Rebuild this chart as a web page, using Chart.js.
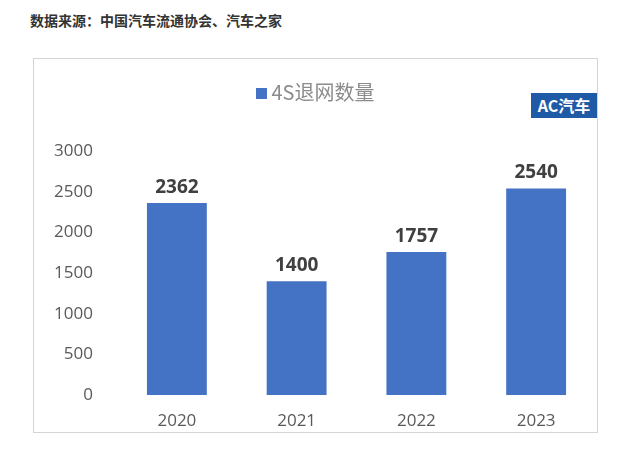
<!DOCTYPE html>
<html>
<head>
<meta charset="utf-8">
<script src="https://cdn.jsdelivr.net/npm/chart.js@4"></script>
<style>
  body { margin: 0; background: #fff; font-family: "Noto Sans CJK SC", "Noto Sans", sans-serif; }
  #title { position: absolute; left: 30px; top: 10px; font-size: 14px; font-weight: bold; color: #333; }
  #box { position: absolute; left: 33px; top: 58px; width: 563px; height: 373px; border: 1px solid #d4d4d4; }
  #legend { position: absolute; left: 0; width: 100%; top: 18px; text-align: center; font-size: 20px; color: #8c8c8c; }
  #legend span.sw { display: inline-block; width: 11px; height: 11px; background: #4472C4; margin-right: 4px; vertical-align: 1px; }
  #logo { position: absolute; left: 497px; top: 34px; width: 66px; height: 25px; background: #1f5aa6; color: #fff;
          font-size: 16px; font-weight: bold; line-height: 25px; text-align: center; }
  canvas { position: absolute; left: 0; top: 0; }
</style>
</head>
<body>
<div id="title">数据来源：中国汽车流通协会、汽车之家</div>
<div id="box">
  <canvas id="myChart" width="563" height="373"></canvas>
  <div id="legend"><span class="sw"></span>4S退网数量</div>
  <div id="logo">AC汽车</div>
</div>
<script>
(() => {
  "use strict";

  const years = ["2020", "2021", "2022", "2023"];
  const exits = [2362, 1400, 1757, 2540];
  const yTicks = [0, 500, 1000, 1500, 2000, 2500, 3000];

  const valueLabels = {
    id: "valueLabels",
    afterDatasetsDraw(chart) {
      const ctx = chart.ctx;
      const meta = chart.getDatasetMeta(0);
      ctx.save();
      ctx.font = "bold 19px 'Open Sans', sans-serif";
      ctx.fillStyle = "#404040";
      ctx.textAlign = "center";
      ctx.textBaseline = "bottom";
      meta.data.forEach((bar, i) => {
        ctx.fillText(String(exits[i]), bar.x, bar.y - 6);
      });
      ctx.restore();
    },
  };

  const chartEl = document.getElementById("myChart");
  new Chart(chartEl, {
    type: "bar",
    data: {
      labels: years,
      datasets: [
        {
          label: "4S退网数量",
          data: exits,
          backgroundColor: "#4472C4",
          barPercentage: 0.5,
          categoryPercentage: 1,
        },
      ],
    },
    options: {
      responsive: false,
      animation: false,
      layout: { padding: { top: 92, right: 1, bottom: 0, left: 0 } },
      plugins: {
        legend: { display: false },
        tooltip: { enabled: false },
      },
      scales: {
        x: {
          grid: { display: false },
          border: { display: false },
          ticks: { color: "#595959", font: { size: 17, family: "'Open Sans', sans-serif" }, padding: 8 },
          afterFit(scale) { scale.height = 37; },
        },
        y: {
          min: 0,
          max: 3000,
          afterBuildTicks(scale) { scale.ticks = yTicks.map((v) => ({ value: v })); },
          grid: { display: false },
          border: { display: false },
          ticks: {
            color: "#595959",
            font: { size: 17, family: "'Open Sans', sans-serif" },
            padding: 16,
            callback: (v) => String(v),
          },
          afterFit(scale) { scale.width = 83; },
        },
      },
    },
    plugins: [valueLabels],
  });
})();
</script>
</body>
</html>
